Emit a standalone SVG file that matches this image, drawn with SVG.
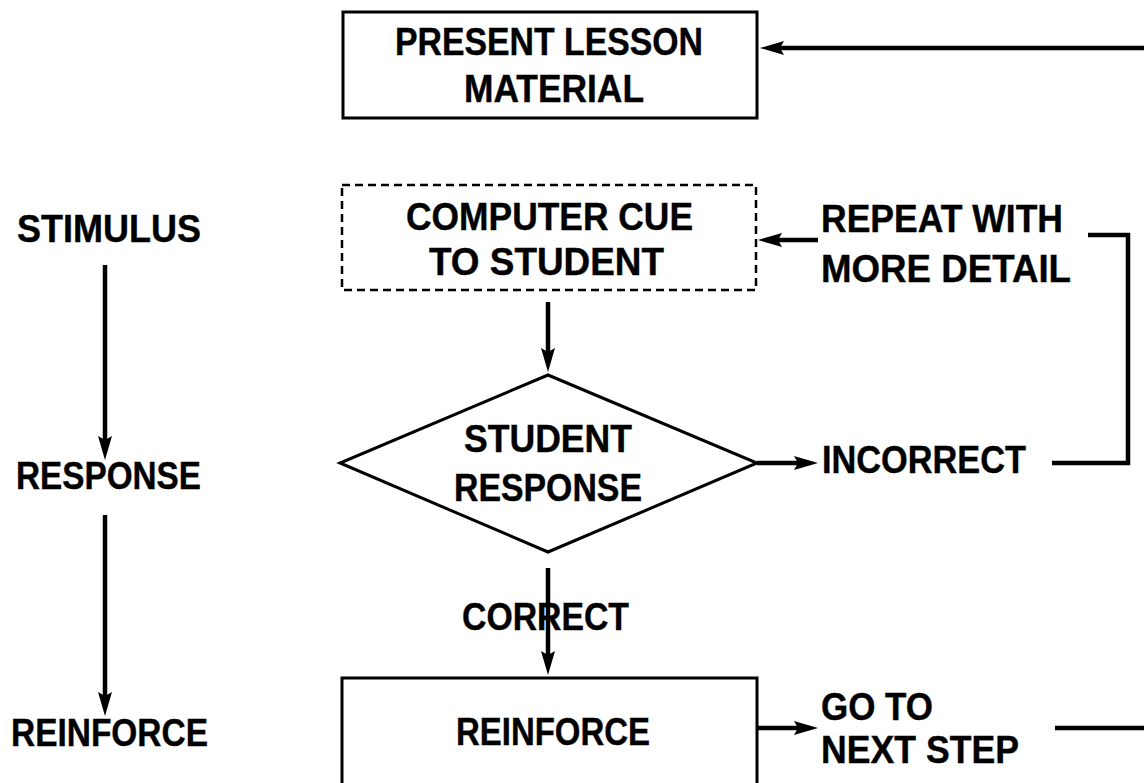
<svg xmlns="http://www.w3.org/2000/svg" width="1144" height="783" viewBox="0 0 1144 783">
<style>
text{font-family:"Liberation Sans",Arial,sans-serif;font-weight:700;font-size:38px;fill:#000;stroke:#000;stroke-width:0.4}
.box{fill:#fff;stroke:#000;stroke-width:3}
.dash{fill:#fff;stroke:#000;stroke-width:2.5;stroke-dasharray:8 5}
.c{fill:none;stroke:#000;stroke-width:4.5}
.a{marker-end:url(#ah)}
</style>
<defs>
<marker id="ah" markerUnits="userSpaceOnUse" markerWidth="26" markerHeight="16" refX="15" refY="7" orient="auto" viewBox="0 0 26 16">
<path d="M0,0 L24,7 L0,14 L4,7 z" fill="#000"/>
</marker>
</defs>
<rect width="1144" height="783" fill="#fff"/>
<g id="connectors">
<line class="c a" x1="1144" y1="48" x2="769" y2="48"/>
<line class="c a" x1="818" y1="240" x2="767" y2="240"/>
<path class="c" d="M1088 235 H1128 V463 H1052"/>
<line class="c a" x1="757" y1="463" x2="809" y2="463"/>
<line class="c a" x1="548" y1="302" x2="548" y2="363"/>
<line class="c a" x1="548" y1="568" x2="548" y2="666"/>
<line class="c a" x1="757" y1="728" x2="809" y2="728"/>
<line class="c" x1="1055" y1="728" x2="1144" y2="728"/>
<line class="c a" x1="105" y1="265" x2="105" y2="451"/>
<line class="c a" x1="105" y1="515" x2="105" y2="707"/>
</g>
<g id="present">
<rect class="box" x="343" y="12" width="414" height="106"/>
<text><tspan x="395" y="55" textLength="308" lengthAdjust="spacingAndGlyphs">PRESENT LESSON</tspan><tspan x="464" y="102" textLength="180" lengthAdjust="spacingAndGlyphs">MATERIAL</tspan></text>
</g>
<g id="cue">
<rect class="dash" x="342" y="185" width="414" height="105"/>
<text><tspan x="406" y="230" textLength="287" lengthAdjust="spacingAndGlyphs">COMPUTER CUE</tspan><tspan x="429" y="275" textLength="235" lengthAdjust="spacingAndGlyphs">TO STUDENT</tspan></text>
</g>
<g id="repeat">
<text><tspan x="821" y="232" textLength="242" lengthAdjust="spacingAndGlyphs">REPEAT WITH</tspan><tspan x="821" y="282" textLength="250" lengthAdjust="spacingAndGlyphs">MORE DETAIL</tspan></text>
</g>
<g id="decision">
<polygon points="548,375 757,463 548,552 340,463" fill="#fff" stroke="#000" stroke-width="3"/>
<text><tspan x="464" y="452" textLength="168" lengthAdjust="spacingAndGlyphs">STUDENT</tspan><tspan x="454" y="501" textLength="188" lengthAdjust="spacingAndGlyphs">RESPONSE</tspan></text>
</g>
<g id="incorrect">
<text x="822" y="473" textLength="204" lengthAdjust="spacingAndGlyphs">INCORRECT</text>
</g>
<g id="correct">
<text x="462" y="630" textLength="167" lengthAdjust="spacingAndGlyphs">CORRECT</text>
</g>
<g id="reinforce">
<rect class="box" x="342" y="678" width="415" height="120"/>
<text x="456" y="745" textLength="194" lengthAdjust="spacingAndGlyphs">REINFORCE</text>
</g>
<g id="next">
<text><tspan x="821" y="720" textLength="112" lengthAdjust="spacingAndGlyphs">GO TO</tspan><tspan x="821" y="763" textLength="198" lengthAdjust="spacingAndGlyphs">NEXT STEP</tspan></text>
</g>
<g id="stimulus">
<text x="17" y="242" textLength="184" lengthAdjust="spacingAndGlyphs">STIMULUS</text>
</g>
<g id="response">
<text x="16" y="489" textLength="185" lengthAdjust="spacingAndGlyphs">RESPONSE</text>
</g>
<g id="reinforce-label">
<text x="11" y="746" textLength="197" lengthAdjust="spacingAndGlyphs">REINFORCE</text>
</g>
</svg>
